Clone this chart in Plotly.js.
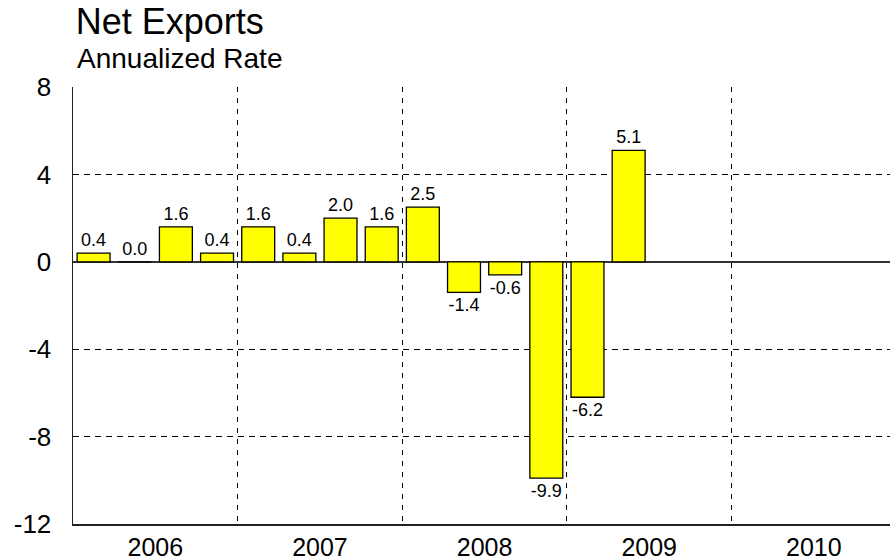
<!DOCTYPE html>
<html>
<head>
<meta charset="utf-8">
<script src="https://cdn.plot.ly/plotly-3.0.1.min.js"></script>
<style>
  html, body { margin: 0; padding: 0; background: #fff; }
  #chart { width: 890px; height: 560px; }
</style>
</head>
<body>
<div id="chart"></div>
<script>
// Quarterly net exports, annualized rate
const quarters = ["2006Q1", "2006Q2", "2006Q3", "2006Q4",
                  "2007Q1", "2007Q2", "2007Q3", "2007Q4",
                  "2008Q1", "2008Q2", "2008Q3", "2008Q4",
                  "2009Q1", "2009Q2"];
const netExports = [0.4, 0.0, 1.6, 0.4, 1.6, 0.4, 2.0, 1.6, 2.5, -1.4, -0.6, -9.9, -6.2, 5.1];
const years = ["2006", "2007", "2008", "2009", "2010"];
const yTicks = [8, 4, 0, -4, -8, -12];
const yTickText = ["8", "4", "0", "-4", "-8", "-12"];

// each quarter is one unit on the x axis, bars sit in the middle of their slot
const xPos = quarters.map((q, i) => i + 0.5);
const yearCenters = years.map((y, i) => i * 4 + 2);

const FONT = "Liberation Sans, Arial, Helvetica, sans-serif";

const trace = {
    type: "bar",
    x: xPos,
    y: netExports,
    width: 0.8,
    marker: { color: "#ffff00", line: { color: "#000", width: 1.3 } },
    text: netExports.map((v) => v.toFixed(1)),
    textposition: "outside",
    cliponaxis: false,
    textfont: { family: FONT, size: 18, color: "#000" },
    hoverinfo: "skip"
};

const layout = {
    width: 890,
    height: 560,
    margin: { l: 73, r: 0, t: 87, b: 36 },
    paper_bgcolor: "#fff",
    plot_bgcolor: "#fff",
    showlegend: false,
    font: { family: FONT, color: "#000" },
    title: {
        text: "Net Exports",
        font: { size: 36, color: "#000" },
        xref: "container", x: 0.085, xanchor: "left",
        yref: "container", y: 1, yanchor: "top",
        pad: { t: 9 }
    },
    annotations: [{
        text: "Annualized Rate",
        xref: "paper", x: 0.002, xanchor: "left",
        yref: "paper", y: 1.026, yanchor: "bottom",
        showarrow: false,
        font: { size: 28, color: "#000" }
    }],
    xaxis: {
        range: [0, 19.85],
        tickmode: "array",
        tickvals: yearCenters,
        ticktext: years,
        ticks: "",
        showgrid: false,
        showline: true,
        linecolor: "#222",
        linewidth: 1.5,
        zeroline: false,
        tickfont: { size: 25 },
        ticklabelstandoff: 0,
        minor: {
            tick0: 0, dtick: 4,
            showgrid: true, gridcolor: "#000", gridwidth: 1, griddash: "5px,6px",
            ticks: ""
        }
    },
    yaxis: {
        range: [-12, 8],
        tickmode: "array",
        tickvals: yTicks,
        ticktext: yTickText,
        ticks: "",
        showgrid: true,
        gridcolor: "#000",
        gridwidth: 1,
        griddash: "6px,5px",
        showline: true,
        linecolor: "#222",
        linewidth: 1.5,
        zeroline: true,
        zerolinecolor: "#333",
        zerolinewidth: 1.5,
        tickfont: { size: 26 },
        ticklabelstandoff: 15
    },
    bargap: 0.2
};

Plotly.newPlot("chart", [trace], layout, { staticPlot: true });
</script>
</body>
</html>
